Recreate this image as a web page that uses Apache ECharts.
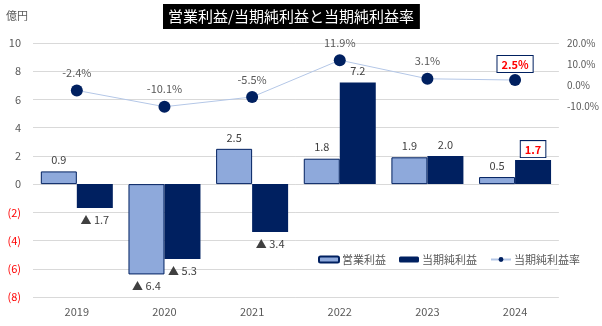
<!DOCTYPE html>
<html><head><meta charset="utf-8">
<script src="https://cdn.jsdelivr.net/npm/echarts@6/dist/echarts.min.js"></script>
<style>html,body{margin:0;padding:0;background:#fff}#c{width:602px;height:326px}</style>
</head><body><div id="c"></div>
<script>
const years = ['2019','2020','2021','2022','2023','2024'];
const opProfit = [0.9, -6.4, 2.5, 1.8, 1.9, 0.5];
const netProfit = [-1.7, -5.3, -3.4, 7.2, 2.0, 1.7];
const netMargin = [-2.4, -10.1, -5.5, 11.9, 3.1, 2.5];
const highlightIndex = 5;

const FONT = '"Noto Sans CJK JP", "Noto Sans", sans-serif';
const GRAY = '#595959';
const NAVY = '#002060';
const LIGHT = '#8EA9DB';

function barLabelText(v){ return v < 0 ? '▲ ' + Math.abs(v).toFixed(1) : v.toFixed(1); }
function barItems(arr, hl){
  return arr.map((v,i)=>{
    const item = {value: v, label: {position: v < 0 ? 'bottom' : 'top'}};
    if (hl && i === highlightIndex) {
      item.label = {position:'top', color:'#FF0000', fontWeight:'bold', borderColor:NAVY, borderWidth:1,
        padding:[3,4,2,4], backgroundColor:'#fff', distance:3};
    }
    return item;
  });
}
const lineItems = netMargin.map((v,i)=>{
  const item = {value: v};
  if (i === highlightIndex) item.label = {color:'#FF0000', fontWeight:'bold', borderColor:NAVY, borderWidth:1,
    padding:[3,4,2,4], backgroundColor:'#fff', distance:2};
  return item;
});

const chart = echarts.init(document.getElementById('c'));
chart.setOption({
  animation: false,
  textStyle: {fontFamily: FONT},
  title: {
    text: '営業利益/当期純利益と当期純利益率', left: 163, top: 4,
    backgroundColor: '#000', padding: [5,6,5,5],
    textStyle: {color:'#fff', fontSize:15, fontWeight:'normal', fontFamily: FONT}
  },
  graphic: [{type:'text', left: 6, top: 10, style:{text:'億円', fill:GRAY, font:'11px ' + FONT}}],
  legend: {
    left: 313, top: 249, itemWidth: 20, itemHeight: 6, itemGap: 13,
    textStyle: {color: GRAY, fontSize: 11, fontFamily: FONT, padding:[0,0,0,-2]},
    data: ['営業利益','当期純利益','当期純利益率']
  },
  grid: {left: 33, right: 43, top: 43, bottom: 29},
  xAxis: {
    type: 'category', data: years,
    axisLine: {show: false, onZero: false}, axisTick: {show: false},
    axisLabel: {color: GRAY, fontSize: 11, margin: 9}
  },
  yAxis: [{
    type: 'value', min: -8, max: 10, interval: 2,
    splitLine: {lineStyle: {color: '#D9D9D9'}},
    axisLabel: {
      fontSize: 11, margin: 12,
      formatter: v => v < 0 ? '(' + Math.abs(v) + ')' : String(v),
      color: v => (v < 0 ? '#FF0000' : GRAY)
    }
  },{
    type: 'value', min: -100, max: 20, interval: 10, position: 'right',
    splitLine: {show: false},
    axisLabel: {
      fontSize: 10, color: GRAY, margin: 8,
      formatter: v => v >= -10 ? v.toFixed(1) + '%' : ''
    }
  }],
  series: [{
    name: '営業利益', type: 'bar', barWidth: 36, barGap: '0%',
    itemStyle: {color: LIGHT, borderColor: NAVY, borderWidth: 1},
    label: {show: true, color: '#404040', fontSize: 11, distance: 6, formatter: p => barLabelText(p.value)},
    data: barItems(opProfit, false)
  },{
    name: '当期純利益', type: 'bar', barWidth: 36,
    itemStyle: {color: NAVY},
    label: {show: true, color: '#404040', fontSize: 11, distance: 6, formatter: p => barLabelText(p.value)},
    data: barItems(netProfit, true)
  },{
    name: '当期純利益率', type: 'line', yAxisIndex: 1, z: 5,
    symbol: 'circle', symbolSize: 12,
    lineStyle: {color: '#B4C7E7', width: 1},
    itemStyle: {color: NAVY},
    label: {show: true, position: 'top', color: GRAY, fontSize: 11, distance: 6, formatter: p => p.value.toFixed(1) + '%'},
    data: lineItems
  }]
});
</script></body></html>
